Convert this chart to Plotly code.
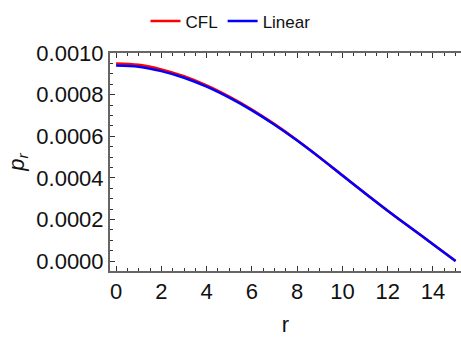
import plotly.graph_objects as go

r = [0, 1, 2, 3, 4, 5, 6, 7, 8, 9, 10, 11, 12, 13, 14, 15]
p_cfl = [0.000950, 0.000943, 0.000921, 0.000888, 0.000844, 0.000790, 0.000728, 0.000658,
         0.000581, 0.000498, 0.000412, 0.000326, 0.000242, 0.000161, 0.000081, 0.0]
p_lin = [0.000940, 0.000934, 0.000913, 0.000881, 0.000838, 0.000785, 0.000724, 0.000655,
         0.000579, 0.000497, 0.000411, 0.000326, 0.000242, 0.000161, 0.000081, 0.0]

fig = go.Figure()
fig.add_trace(go.Scatter(x=r, y=p_cfl, mode="lines", name="CFL",
                         line=dict(color="#ff0000", width=2.5, shape="spline", smoothing=1.0)))
fig.add_trace(go.Scatter(x=r, y=p_lin, mode="lines", name="Linear",
                         line=dict(color="#0000ff", width=2.5, shape="spline", smoothing=1.0)))

FONT = "Liberation Sans, Arial"
axis_common = dict(
    showline=True, linecolor="#666666", linewidth=2,
    ticks="inside", ticklen=5, tickwidth=1, tickcolor="#333333",
    showgrid=False, zeroline=False,
    tickfont=dict(family=FONT, size=22, color="#111111"),
)

fig.update_layout(
    width=461, height=337,
    margin=dict(l=110, r=0, t=53, b=66),
    paper_bgcolor="white", plot_bgcolor="white",
    showlegend=True,
    legend=dict(orientation="h", x=0.5, xanchor="center", y=0.99, yanchor="top",
                xref="container", yref="container",
                font=dict(family=FONT, size=17, color="#111111"),
                itemwidth=30),
    xaxis=dict(range=[-0.27, 15.24], tickmode="array", tickvals=[0, 2, 4, 6, 8, 10, 12, 14],
               mirror="allticks",
               minor=dict(dtick=0.5, ticks="inside", ticklen=3, tickcolor="#333333"),
               title=dict(text="r", font=dict(family=FONT, size=22, color="#111111"),
                          standoff=14),
               **axis_common),
    yaxis=dict(range=[-0.000048, 0.001], tickmode="array",
               tickvals=[0, 0.0002, 0.0004, 0.0006, 0.0008, 0.0010], tickformat=".4f",
               mirror=False,
               minor=dict(dtick=0.00005, ticks="inside", ticklen=3, tickcolor="#333333"),
               title=dict(text="<i>p</i><sub><i>r</i></sub>",
                          font=dict(family=FONT, size=22, color="#111111"),
                          standoff=6),
               **axis_common),
)

fig.write_html("out.html")
